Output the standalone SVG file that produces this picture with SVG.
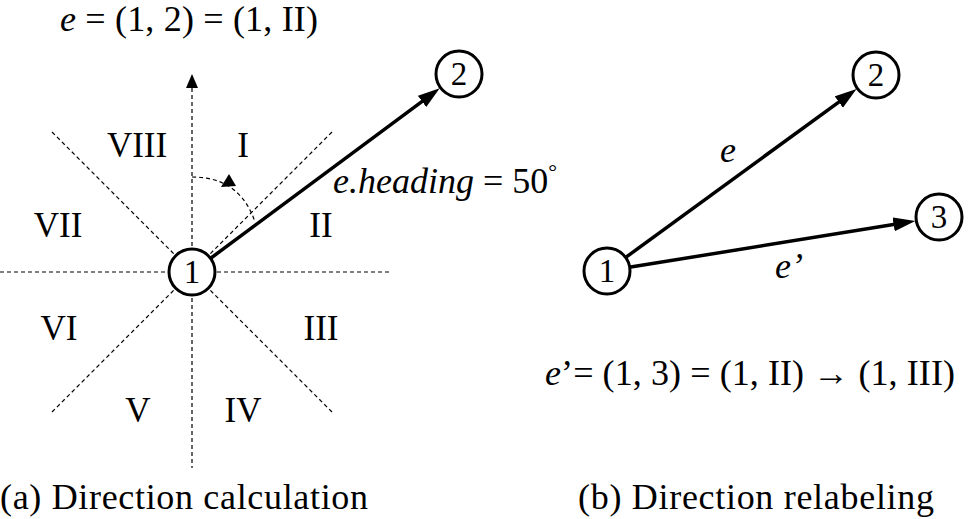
<svg xmlns="http://www.w3.org/2000/svg" width="970" height="519" viewBox="0 0 970 519">
<style>
text{font-family:"Times New Roman",Times,"Liberation Serif",Tinos,"Noto Serif","DejaVu Serif",FreeSerif,serif;fill:#000;}
.t{font-size:36px;}
.num{font-size:35px;text-anchor:middle;}
.nl{font-size:33px;text-anchor:middle;}
.it{font-style:italic;}
.dash{stroke:#000;stroke-width:1.2;stroke-dasharray:4,3;fill:none;}
.edge{stroke:#000;stroke-width:3.5;fill:none;marker-end:url(#ah);}
.node circle{fill:#fff;stroke:#000;stroke-width:3;}
</style>
<defs>
<marker id="ah" markerUnits="userSpaceOnUse" markerWidth="24" markerHeight="16" refX="14" refY="7" orient="auto">
<path d="M0,0 L22,7 L0,14 z" fill="#000"/>
</marker>
</defs>
<rect width="970" height="519" fill="#fff"/>
<g id="guides">
<line class="dash" x1="0" y1="272" x2="392" y2="272"/>
<line class="dash" x1="192" y1="88" x2="192" y2="468"/>
<polygon points="192,74 186,88 198,88" fill="#000"/>
<line class="dash" x1="52" y1="132" x2="332" y2="412"/>
<line class="dash" x1="332" y1="132" x2="52" y2="412"/>
<path class="dash" d="M192,177 Q240,177 255,222"/>
<polygon points="229,174 221,187 236,186" fill="#000"/>
</g>
<g id="sectors">
<text class="t num" x="137" y="157">VIII</text>
<text class="t num" x="243" y="157">I</text>
<text class="t num" x="58" y="237">VII</text>
<text class="t num" x="321" y="237">II</text>
<text class="t num" x="59" y="340">VI</text>
<text class="t num" x="321" y="340">III</text>
<text class="t num" x="138" y="422">V</text>
<text class="t num" x="243" y="422">IV</text>
</g>
<g id="connectors">
<line class="edge" x1="211" y1="258" x2="433.3" y2="93.1"/>
<line class="edge" x1="626.4" y1="256.9" x2="850.1" y2="93.8"/>
<line class="edge" x1="630.7" y1="267.1" x2="907.4" y2="222.2"/>
</g>
<g id="node-a1" class="node"><circle cx="192" cy="272" r="23"/><text class="nl" x="192" y="283">1</text></g>
<g id="node-a2" class="node"><circle cx="459" cy="74" r="23"/><text class="nl" x="459" y="85">2</text></g>
<g id="node-b1" class="node"><circle cx="607" cy="271" r="23"/><text class="nl" x="607" y="282">1</text></g>
<g id="node-b2" class="node"><circle cx="876" cy="75" r="23"/><text class="nl" x="876" y="86">2</text></g>
<g id="node-b3" class="node"><circle cx="939" cy="217" r="23"/><text class="nl" x="939" y="228">3</text></g>
<g id="labels">
<text class="t" x="60" y="31" textLength="258" lengthAdjust="spacing"><tspan class="it">e</tspan> = (1, 2) = (1, II)</text>
<text class="t" x="333" y="193"><tspan class="it">e.heading</tspan> = 50<tspan font-size="22" dy="-14">°</tspan></text>
<text class="t it" x="720" y="162">e</text>
<text class="t it" x="775" y="278">e’</text>
<text class="t" x="545" y="385" textLength="410" lengthAdjust="spacing"><tspan class="it">e</tspan>’= (1, 3) = (1, II) → (1, III)</text>
<text class="t" x="0" y="509" textLength="368" lengthAdjust="spacing">(a)  Direction  calculation</text>
<text class="t" x="578" y="509" textLength="356" lengthAdjust="spacing">(b)  Direction  relabeling</text>
</g>
</svg>
